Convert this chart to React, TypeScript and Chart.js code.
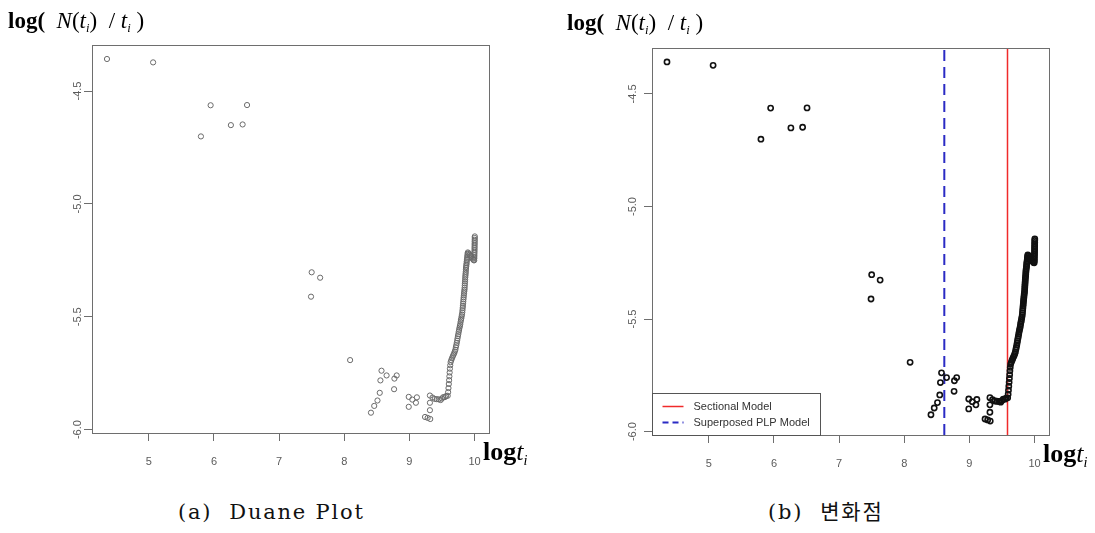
import React, { useEffect, useRef } from 'react';
import { Chart, registerables } from 'chart.js';

Chart.register(...registerables);

// log t_i (x), failure order i = 1..129
const logT: number[] = [
  4.358, 5.066, 5.800, 5.949, 6.260, 6.440, 6.508, 7.490, 7.500, 7.630,
  8.090, 8.410, 8.460, 8.510, 8.545, 8.555, 8.572, 8.650, 8.765, 8.770,
  8.805, 8.990, 8.990, 9.045, 9.100, 9.115, 9.240, 9.280, 9.320, 9.315,
  9.315, 9.315, 9.355, 9.390, 9.420, 9.450, 9.480, 9.500, 9.520, 9.545,
  9.565, 9.588, 9.595, 9.600, 9.605, 9.610, 9.614, 9.618, 9.622, 9.627,
  9.633, 9.643, 9.654, 9.665, 9.676, 9.687, 9.697, 9.706, 9.713, 9.720,
  9.727, 9.733, 9.739, 9.745, 9.751, 9.757, 9.763, 9.769, 9.775, 9.781,
  9.786, 9.791, 9.797, 9.802, 9.807, 9.812, 9.815, 9.818, 9.821, 9.824,
  9.827, 9.830, 9.833, 9.836, 9.839, 9.842, 9.846, 9.848, 9.850, 9.852,
  9.854, 9.856, 9.858, 9.860, 9.863, 9.865, 9.867, 9.869, 9.872, 9.875,
  9.878, 9.880, 9.883, 9.886, 9.889, 9.891, 9.894, 9.897, 9.910, 9.925,
  9.940, 9.955, 9.970, 9.985, 9.995, 9.996, 9.997, 9.998, 9.998, 9.999,
  10.000, 10.000, 10.001, 10.001, 10.002, 10.002, 10.003, 10.003, 10.004,
];

// log(N(t_i)/t_i) (y)
const logRate: number[] = [
  -4.358, -4.373, -4.701, -4.563, -4.651, -4.648, -4.562, -5.411, -5.303, -5.327,
  -5.692, -5.925, -5.895, -5.871, -5.837, -5.782, -5.739, -5.760, -5.821, -5.774,
  -5.760, -5.899, -5.855, -5.867, -5.881, -5.857, -5.944, -5.948, -5.953, -5.914,
  -5.881, -5.849, -5.858, -5.864, -5.865, -5.866, -5.869, -5.862, -5.856, -5.856,
  -5.851, -5.850, -5.834, -5.816, -5.798, -5.781, -5.764, -5.747, -5.730, -5.715,
  -5.701, -5.692, -5.684, -5.676, -5.669, -5.662, -5.654, -5.646, -5.635, -5.626,
  -5.616, -5.606, -5.596, -5.586, -5.577, -5.567, -5.558, -5.549, -5.541, -5.533,
  -5.523, -5.514, -5.507, -5.498, -5.490, -5.481, -5.471, -5.461, -5.452, -5.442,
  -5.433, -5.423, -5.414, -5.405, -5.396, -5.388, -5.380, -5.371, -5.361, -5.352,
  -5.343, -5.334, -5.325, -5.317, -5.309, -5.301, -5.292, -5.284, -5.277, -5.270,
  -5.263, -5.255, -5.248, -5.242, -5.235, -5.228, -5.221, -5.215, -5.219, -5.225,
  -5.230, -5.237, -5.243, -5.249, -5.250, -5.242, -5.235, -5.227, -5.219, -5.212,
  -5.204, -5.196, -5.189, -5.181, -5.174, -5.166, -5.159, -5.151, -5.144,
];

const xTicks = [5, 6, 7, 8, 9, 10];
const yTicks = [-4.5, -5.0, -5.5, -6.0];
const yTickLabels = ['-4.5', '-5.0', '-5.5', '-6.0'];
const xLimits = [4.128, 10.222];
const yLimits = [-6.015, -4.296];
const sectionalChange = [9.585];
const superposedChange = [8.615];
const legendLabels = ['Sectional Model', 'Superposed PLP Model'];
const captions = ['(a)  Duane Plot', '(b)  변화점'];

const RED = '#f02a2a';
const BLUE = '#2b2bc4';

const framePlugin = {
  id: 'frame',
  afterDraw(chart: any, _args: any, o: any) {
    const { ctx, chartArea: a, scales } = chart;
    ctx.save();
    ctx.strokeStyle = '#6e6e6e';
    ctx.lineWidth = 1;
    const L = Math.round(a.left) + 0.5;
    const T = Math.round(a.top) + 0.5;
    const R = Math.round(a.right) + 0.5;
    const B = Math.round(a.bottom) + 0.5;
    ctx.strokeRect(L, T, R - L, B - T);
    ctx.fillStyle = '#5a5a5a';
    ctx.font = '11px "Liberation Sans", Arial, sans-serif';
    ctx.textAlign = 'center';
    ctx.textBaseline = 'middle';
    yTicks.forEach((v, i) => {
      const y = scales.y.getPixelForValue(v);
      ctx.save();
      ctx.translate(a.left - o.yLabelGap, y);
      ctx.rotate(-Math.PI / 2);
      ctx.fillText(yTickLabels[i], 0, 0);
      ctx.restore();
    });
    if (o.legend) {
      const bw = 168;
      const bh = 42;
      const bx = L;
      const by = B - bh;
      ctx.fillStyle = '#ffffff';
      ctx.fillRect(bx, by, bw, bh);
      ctx.strokeStyle = '#555';
      ctx.strokeRect(bx, by, bw, bh);
      ctx.strokeStyle = RED;
      ctx.lineWidth = 1.5;
      ctx.beginPath();
      ctx.moveTo(bx + 10, by + 13);
      ctx.lineTo(bx + 31, by + 13);
      ctx.stroke();
      ctx.strokeStyle = BLUE;
      ctx.lineWidth = 2;
      ctx.setLineDash([6, 4]);
      ctx.beginPath();
      ctx.moveTo(bx + 10, by + 29);
      ctx.lineTo(bx + 31, by + 29);
      ctx.stroke();
      ctx.setLineDash([]);
      ctx.fillStyle = '#333';
      ctx.font = '11px "Liberation Sans", Arial, sans-serif';
      ctx.textAlign = 'left';
      ctx.fillText(legendLabels[0], bx + 41, by + 13);
      ctx.fillText(legendLabels[1], bx + 41, by + 29);
    }
    ctx.restore();
  },
};

type PanelProps = {
  left: number;
  width: number;
  height: number;
  pad: { left: number; top: number; right: number; bottom: number };
  yAxisWidth: number;
  yLabelGap: number;
  pointColor: string;
  pointWidth: number;
  withLines: boolean;
};

function Panel(p: PanelProps) {
  const ref = useRef<HTMLCanvasElement>(null);
  useEffect(() => {
    if (!ref.current) return;
    const points = logT.map((x, i) => ({ x, y: logRate[i] }));
    const datasets: any[] = [
      {
        data: points,
        pointStyle: 'circle',
        pointRadius: 2.6,
        pointBorderWidth: p.pointWidth,
        borderColor: p.pointColor,
        pointBorderColor: p.pointColor,
        backgroundColor: 'rgba(0,0,0,0)',
        pointBackgroundColor: 'rgba(0,0,0,0)',
        showLine: false,
      },
    ];
    if (p.withLines) {
      superposedChange.forEach((v) =>
        datasets.push({
          data: [{ x: v, y: yLimits[0] }, { x: v, y: yLimits[1] }],
          showLine: true,
          borderColor: BLUE,
          borderWidth: 2,
          borderDash: [11, 6],
          pointRadius: 0,
        })
      );
      sectionalChange.forEach((v) =>
        datasets.push({
          data: [{ x: v, y: yLimits[0] }, { x: v, y: yLimits[1] }],
          showLine: true,
          borderColor: RED,
          borderWidth: 1.5,
          pointRadius: 0,
        })
      );
    }
    const gridOpts = {
      drawOnChartArea: false,
      drawTicks: true,
      tickLength: 8,
      color: '#6e6e6e',
      lineWidth: 1,
    };
    const chart = new Chart(ref.current, {
      type: 'scatter',
      data: { datasets },
      options: {
        animation: false,
        responsive: false,
        devicePixelRatio: 1,
        layout: { padding: p.pad },
        plugins: {
          legend: { display: false },
          tooltip: { enabled: false },
          frame: { yLabelGap: p.yLabelGap, legend: p.withLines },
        } as any,
        scales: {
          x: {
            type: 'linear',
            min: xLimits[0],
            max: xLimits[1],
            afterBuildTicks: (s: any) => {
              s.ticks = xTicks.map((v) => ({ value: v }));
            },
            afterFit: (s: any) => {
              s.height = 40;
            },
            grid: gridOpts,
            border: { display: false },
            ticks: {
              autoSkip: false,
              maxRotation: 0,
              minRotation: 0,
              padding: 14,
              color: '#5a5a5a',
              font: { family: '"Liberation Sans", Arial, sans-serif', size: 11 },
              callback: (v: any) => String(v),
            },
          },
          y: {
            type: 'linear',
            min: yLimits[0],
            max: yLimits[1],
            afterBuildTicks: (s: any) => {
              s.ticks = yTicks.map((v) => ({ value: v }));
            },
            afterFit: (s: any) => {
              s.width = p.yAxisWidth;
            },
            grid: gridOpts,
            border: { display: false },
            ticks: { display: false },
          },
        },
      } as any,
      plugins: [framePlugin as any],
    });
    return () => chart.destroy();
  }, []);
  return (
    <canvas
      ref={ref}
      width={p.width}
      height={p.height}
      style={{ position: 'absolute', left: p.left, top: 0, width: p.width, height: p.height }}
    />
  );
}

const serif = '"Liberation Serif", "Times New Roman", serif';

function YTitle({ left, top }: { left: number; top: number }) {
  const sub: React.CSSProperties = { fontSize: '0.55em', position: 'relative', top: '0.35em', fontStyle: 'italic' };
  return (
    <div
      style={{
        position: 'absolute',
        left,
        top,
        fontFamily: serif,
        fontSize: 23,
        lineHeight: '23px',
        whiteSpace: 'pre',
        color: '#000',
      }}
    >
      <b>log(</b>
      {'  '}
      <i>N</i>
      {'('}
      <i>t</i>
      <span style={sub}>i</span>
      {')  / '}
      <i>t</i>
      <span style={sub}>i</span>
      {' )'}
    </div>
  );
}

function XTitle({ left, top }: { left: number; top: number }) {
  return (
    <div
      style={{
        position: 'absolute',
        left,
        top,
        fontFamily: serif,
        fontSize: 26,
        lineHeight: '26px',
        whiteSpace: 'pre',
        color: '#000',
      }}
    >
      <b>log</b>
      <i>t</i>
      <span style={{ fontSize: '0.55em', position: 'relative', top: '0.35em', fontStyle: 'italic' }}>i</span>
    </div>
  );
}

function Caption({ left, text }: { left: number; text: string }) {
  return (
    <div
      style={{
        position: 'absolute',
        left,
        top: 500,
        fontFamily: '"DejaVu Serif", "Noto Sans CJK KR", serif',
        fontSize: 21,
        lineHeight: '24px',
        letterSpacing: '1.8px',
        whiteSpace: 'pre',
        color: '#111',
      }}
    >
      {text}
    </div>
  );
}

export default function App() {
  return (
    <div
      style={{
        position: 'absolute',
        left: 0,
        top: 0,
        width: 1095,
        height: 533,
        background: '#fff',
        overflow: 'hidden',
      }}
    >
      <Panel
        left={0}
        width={545}
        height={500}
        pad={{ left: 0, top: 45, right: 56, bottom: 27 }}
        yAxisWidth={92}
        yLabelGap={14}
        pointColor="#6a6a6a"
        pointWidth={1}
        withLines={false}
      />
      <Panel
        left={545}
        width={550}
        height={500}
        pad={{ left: 0, top: 48, right: 46, bottom: 25 }}
        yAxisWidth={107}
        yLabelGap={19}
        pointColor="#111111"
        pointWidth={1.6}
        withLines={true}
      />
      <YTitle left={8} top={9} />
      <YTitle left={567} top={11} />
      <XTitle left={483} top={439} />
      <XTitle left={1043} top={441} />
      <Caption left={178} text={captions[0]} />
      <Caption left={768} text={captions[1]} />
    </div>
  );
}
